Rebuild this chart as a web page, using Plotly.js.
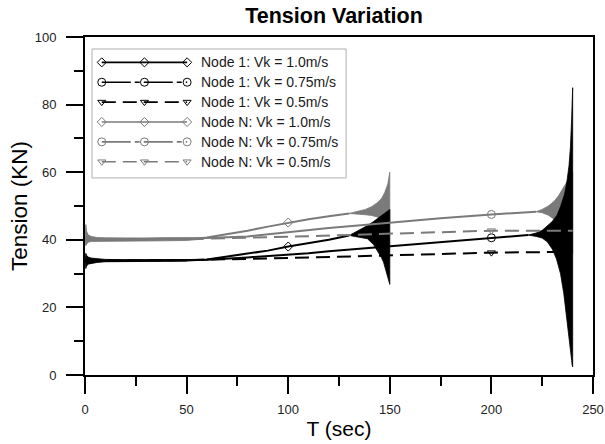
<!DOCTYPE html>
<html><head><meta charset="utf-8">
<script src="https://cdn.plot.ly/plotly-3.0.1.min.js"></script>
<style>html,body{margin:0;padding:0;background:#fff;}#chart{width:605px;height:444px;}</style>
</head><body><div id="chart"></div>
<script>
// ---------------- data ----------------
const legendLabels = [
  'Node 1: Vk = 1.0m/s', 'Node 1: Vk = 0.75m/s', 'Node 1: Vk = 0.5m/s',
  'Node N: Vk = 1.0m/s', 'Node N: Vk = 0.75m/s', 'Node N: Vk = 0.5m/s'
];
const xTickVals = [0, 50, 100, 150, 200, 250];
const yTickVals = [0, 20, 40, 60, 80, 100];

// start-up noise bands (t, upper, lower)
const noiseNT  = [0, 0.4, 0.8, 1.5, 3, 6, 10, 20, 30, 40, 50, 58];
const noiseNHi = [40.1, 44.5, 42.5, 41.5, 41.0, 40.7, 40.6, 40.5, 40.5, 40.6, 40.6, 40.5];
const noiseNLo = [40.1, 38.3, 38.8, 39.3, 39.5, 39.6, 39.7, 39.7, 39.7, 39.7, 39.8, 40.2];
const noise1T  = [0, 0.4, 0.8, 1.5, 3, 6, 10, 20, 30, 40, 50];
const noise1Hi = [33.8, 36.0, 35.4, 34.9, 34.6, 34.4, 34.2, 34.1, 34.1, 34.1, 34.0];
const noise1Lo = [33.8, 31.5, 32.2, 32.8, 33.1, 33.3, 33.5, 33.6, 33.6, 33.7, 33.7];

// Node N, Vk = 1.0 m/s (grey solid)
const nNv10T = [0, 55, 60, 70, 80, 90, 100, 110, 120, 130];
const nNv10Y = [40.1, 40.3, 40.7, 41.6, 42.7, 43.9, 45.1, 46.1, 47.0, 47.8];
const nNv10EnvT  = [130, 134, 138, 141, 144, 146, 147.5, 149, 150];
const nNv10EnvHi = [47.8, 48.3, 49.0, 49.8, 51.0, 52.3, 54.0, 56.5, 60.0];
const nNv10EnvLo = [47.8, 47.6, 47.4, 47.2, 46.8, 46.4, 46.1, 45.8, 45.5];

// Node 1, Vk = 1.0 m/s (black solid)
const n1v10T = [0, 50, 60, 70, 80, 90, 100, 110, 120, 130];
const n1v10Y = [33.8, 33.9, 34.2, 35.0, 35.9, 36.8, 38.0, 39.0, 40.0, 41.3];
const n1v10EnvT  = [130, 133, 136, 139, 142, 144, 146, 147, 148, 149.3, 150];
const n1v10EnvHi = [41.3, 42.2, 43.2, 44.2, 45.4, 46.3, 47.2, 47.6, 48.0, 48.6, 49.0];
const n1v10EnvLo = [41.3, 40.9, 40.6, 40.3, 38.6, 36.8, 34.6, 33.2, 31.5, 28.5, 26.8];

// Node N, Vk = 0.75 m/s (grey)
const nNv075T = [0, 55, 60, 80, 90, 100, 110, 120, 140, 152, 175, 200, 222];
const nNv075Y = [40.1, 40.3, 40.5, 41.0, 41.6, 42.3, 43.0, 43.5, 44.5, 45.2, 46.4, 47.5, 48.3];
const nNv075EnvT  = [222, 225, 228, 231, 233, 235, 236.5, 238, 240];
const nNv075EnvHi = [48.3, 49.0, 50.0, 51.5, 53.0, 55.0, 56.5, 58.0, 60.0];
const nNv075EnvLo = [48.3, 48.0, 47.3, 46.0, 44.5, 42.0, 40.0, 38.0, 36.0];

// Node 1, Vk = 0.75 m/s (black)
const n1v075T = [0, 50, 60, 80, 100, 110, 120, 140, 152, 175, 200, 210, 218];
const n1v075Y = [33.8, 33.9, 34.1, 34.8, 35.5, 36.0, 36.6, 37.6, 38.2, 39.4, 40.6, 41.0, 41.4];
const n1v075EnvT  = [218, 222, 225, 227.5, 229, 230, 232, 232.3, 234, 235.6, 236, 237, 237.3, 238, 238.2, 238.9, 239, 239.5, 239.7, 240];
const n1v075EnvHi = [41.4, 42.0, 42.8, 44.0, 44.9, 45.5, 47.0, 47.3, 49.8, 52.5, 53.5, 56.5, 57.7, 60.5, 62.0, 67.5, 68.5, 76.0, 80.0, 85.0];
const n1v075EnvLo = [41.4, 41.0, 40.5, 39.4, 38.2, 37.2, 34.4, 34.0, 30.0, 24.2, 22.8, 18.0, 16.5, 12.3, 11.3, 7.6, 7.0, 4.3, 3.0, 2.4];

// Node 1, Vk = 0.5 m/s (black dashed)
const n1v05T = [0, 50, 100, 150, 200, 232];
const n1v05Y = [33.8, 34.0, 34.6, 35.5, 36.2, 36.4];

// Node N, Vk = 0.5 m/s (grey dashed)
const nNv05T = [0, 50, 100, 150, 200, 240];
const nNv05Y = [40.1, 40.2, 40.9, 41.8, 42.7, 42.7];

// times where the symbols sit on each curve
const markAt10 = [100];
const markAt075 = [200];
const markAt05 = [200];

// ---------------- styling / drawing ----------------
const BLACK = '#000000';
const GREY = '#7a7a7a';
const FONT = 'Arial, "Liberation Sans", sans-serif';
const DASH_LEG075 = '29px,4px,5px,4px';
const DASH_05 = '14px,7px';

function line(t, y, color, dash, w) {
  return {x: t, y: y, type: 'scatter', mode: 'lines', hoverinfo: 'skip', showlegend: false,
    line: {color: color, width: w || 2, dash: dash || 'solid'}};
}
function band(t, hi, lo, color) {
  return {x: t.concat(t.slice().reverse()), y: hi.concat(lo.slice().reverse()),
    type: 'scatter', mode: 'lines', fill: 'toself', fillcolor: color, hoverinfo: 'skip',
    showlegend: false, line: {color: color, width: 0.8}};
}
function marks(t, y, at, symbol, color, size) {
  const xs = [], ys = [];
  at.forEach(a => { const i = t.indexOf(a); if (i >= 0) { xs.push(t[i]); ys.push(y[i]); } });
  return {x: xs, y: ys, type: 'scatter', mode: 'markers', hoverinfo: 'skip', showlegend: false,
    marker: {symbol: symbol, size: size || 8, color: color, line: {color: color, width: 1}}};
}

const traces = [
  band(noiseNT, noiseNHi, noiseNLo, GREY),
  band(noise1T, noise1Hi, noise1Lo, BLACK),
  line(nNv10T, nNv10Y, GREY),
  band(nNv10EnvT, nNv10EnvHi, nNv10EnvLo, GREY),
  line(n1v10T, n1v10Y, BLACK),
  band(n1v10EnvT, n1v10EnvHi, n1v10EnvLo, BLACK),
  line(nNv075T, nNv075Y, GREY),
  band(nNv075EnvT, nNv075EnvHi, nNv075EnvLo, GREY),
  line(n1v075T, n1v075Y, BLACK),
  band(n1v075EnvT, n1v075EnvHi, n1v075EnvLo, BLACK),
  line(n1v05T, n1v05Y, BLACK, DASH_05),
  line(nNv05T, nNv05Y, GREY, DASH_05),
  marks(nNv10T, nNv10Y, markAt10, 'diamond-open', GREY, 7),
  marks(n1v10T, n1v10Y, markAt10, 'diamond-open', BLACK, 7),
  marks(nNv075T, nNv075Y, markAt075, 'circle-open', GREY, 8),
  marks(n1v075T, n1v075Y, markAt075, 'circle-open', BLACK, 8),
  marks(nNv05T, nNv05Y, markAt05, 'triangle-down-open', GREY, 7),
  marks(n1v05T, n1v05Y, markAt05, 'triangle-down-open', BLACK, 7)
];

// custom Origin-style legend on an overlaid unit axis pair
const legStyle = [
  {c: BLACK, d: 'solid', s: 'diamond-open', z: 7},
  {c: BLACK, d: DASH_LEG075, s: 'circle-open', z: 8},
  {c: BLACK, d: DASH_05, s: 'triangle-down-open', z: 7},
  {c: GREY, d: 'solid', s: 'diamond-open', z: 7},
  {c: GREY, d: DASH_LEG075, s: 'circle-open', z: 8},
  {c: GREY, d: DASH_05, s: 'triangle-down-open', z: 7}
];
const legX0 = 0.033, legX1 = 0.201, legTop = 0.925, legStep = 0.0588, legTextX = 0.224;
const annotations = [];
legendLabels.forEach((lab, i) => {
  const yy = legTop - i * legStep;
  const st = legStyle[i];
  traces.push({x: [legX0, (legX0 + legX1) / 2, legX1], y: [yy, yy, yy], xaxis: 'x2', yaxis: 'y2',
    type: 'scatter', mode: 'lines+markers', hoverinfo: 'skip', showlegend: false, cliponaxis: false,
    line: {color: st.c, width: 1.6, dash: st.d},
    marker: {symbol: st.s, size: st.z, color: st.c, line: {color: st.c, width: 1}}});
  annotations.push({xref: 'paper', yref: 'paper', x: legTextX, y: yy, xanchor: 'left', yanchor: 'middle',
    text: lab, showarrow: false, font: {family: FONT, size: 14, color: '#1a1a1a'}});
});

const axisCommon = {
  showgrid: false, zeroline: false, showline: true, linecolor: BLACK, linewidth: 2, mirror: true,
  ticks: 'outside', ticklen: 17, tickwidth: 2, tickcolor: BLACK,
  tickfont: {family: FONT, size: 13, color: '#222'}
};

const layout = {
  width: 605, height: 444,
  margin: {l: 85, r: 12, t: 37, b: 69},
  paper_bgcolor: '#fff', plot_bgcolor: '#fff',
  showlegend: false,
  title: {text: 'Tension Variation', x: 334 / 605, xanchor: 'center', y: 1 - 15.5 / 444, yanchor: 'middle',
    font: {family: FONT, size: 21.5, color: '#000', weight: 'bold'}},
  xaxis: Object.assign({}, axisCommon, {
    range: [0, 250], tickvals: xTickVals, ticklabelstandoff: 4,
    minor: {dtick: 25, tick0: 0, ticks: 'outside', ticklen: 9, tickwidth: 2, tickcolor: BLACK, showgrid: false},
    title: {text: 'T (sec)', font: {family: FONT, size: 21, color: '#000'}, standoff: 6}
  }),
  yaxis: Object.assign({}, axisCommon, {
    range: [0, 100], tickvals: yTickVals, ticklabelstandoff: 7,
    minor: {dtick: 10, tick0: 0, ticks: 'outside', ticklen: 9, tickwidth: 2, tickcolor: BLACK, showgrid: false},
    title: {text: 'Tension (KN)', font: {family: FONT, size: 22.5, color: '#000'}, standoff: 1}
  }),
  xaxis2: {overlaying: 'x', range: [0, 1], visible: false, fixedrange: true},
  yaxis2: {overlaying: 'y', range: [0, 1], visible: false, fixedrange: true},
  shapes: [{type: 'rect', xref: 'paper', yref: 'paper', x0: 0.0138, x1: 0.514, y0: 0.583, y1: 0.9645,
    line: {color: '#b0b0b0', width: 1}, fillcolor: 'rgba(0,0,0,0)', layer: 'above'}],
  annotations: annotations
};

Plotly.newPlot('chart', traces, layout, {displayModeBar: false, staticPlot: true});
</script>
</body></html>
